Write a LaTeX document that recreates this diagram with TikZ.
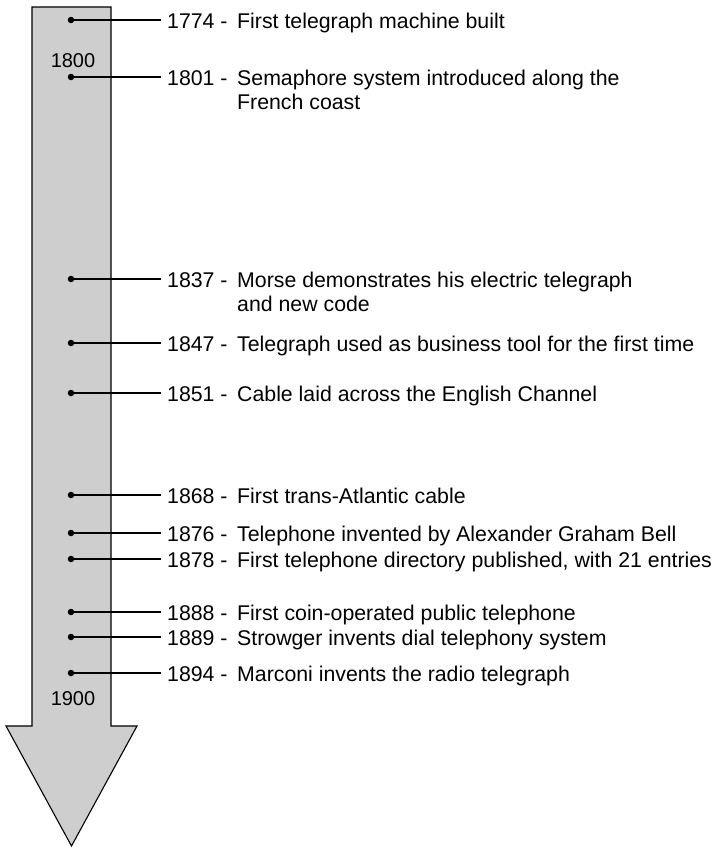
\documentclass[tikz,border=0pt]{standalone}
\usepackage{fontspec}
\setmainfont{Liberation Sans}
\definecolor{shaftgray}{RGB}{206,206,206}
% left-aligned block whose baseline is that of its first line
\newcommand{\toplines}[1]{\begin{tabular}[t]{@{}l@{}}#1\end{tabular}}
\begin{document}
\begin{tikzpicture}[x=1pt,y=-1pt,
  txt/.style={font=\fontsize{21.3}{24}\selectfont, inner sep=0pt, anchor=base west},
  yeartxt/.style={txt},
  centurytxt/.style={font=\fontsize{20}{24}\selectfont, inner sep=0pt},
  dot/.style={circle, fill=black, inner sep=0pt, minimum size=6.5pt},
  tick/.style={line width=1.1pt}]
\useasboundingbox (0,0) rectangle (713,849);
% timeline arrow
\draw[fill=shaftgray, line width=1.1pt, line join=miter]
  (32,7) -- (111,7) -- (111,726) -- (137,726) -- (71.5,846) -- (6,726) -- (32,726) -- cycle;
\node[centurytxt] (c1800) at (73,61) {1800};
\node[centurytxt] (c1900) at (73,699) {1900};
% events: name / y / year / description
\foreach \n/\y/\yr/\desc in {
  a/20/1774/{First telegraph machine built},
  b/77/1801/{Semaphore system introduced along the\\French coast},
  c/279/1837/{Morse demonstrates his electric telegraph\\and new code},
  d/343/1847/{Telegraph used as business tool for the first time},
  e/393/1851/{Cable laid across the English Channel},
  f/495/1868/{First trans-Atlantic cable},
  g/533/1876/{Telephone invented by Alexander Graham Bell},
  h/559/1878/{First telephone directory published, with 21 entries},
  i/612/1888/{First coin-operated public telephone},
  j/637/1889/{Strowger invents dial telephony system},
  k/673/1894/{Marconi invents the radio telegraph}}
{
  \node[dot] (dot\n) at (71,\y) {};
  \node[yeartxt] (yr\n) at (167,\y+8.5) {\yr\ -};
  \node[txt] (ev\n) at (237,\y+8.5) {\toplines{\desc}};
  \coordinate (end\n) at (160.5,\y);
  \draw[tick] (dot\n.center) -- (end\n);
}
\end{tikzpicture}
\end{document}
